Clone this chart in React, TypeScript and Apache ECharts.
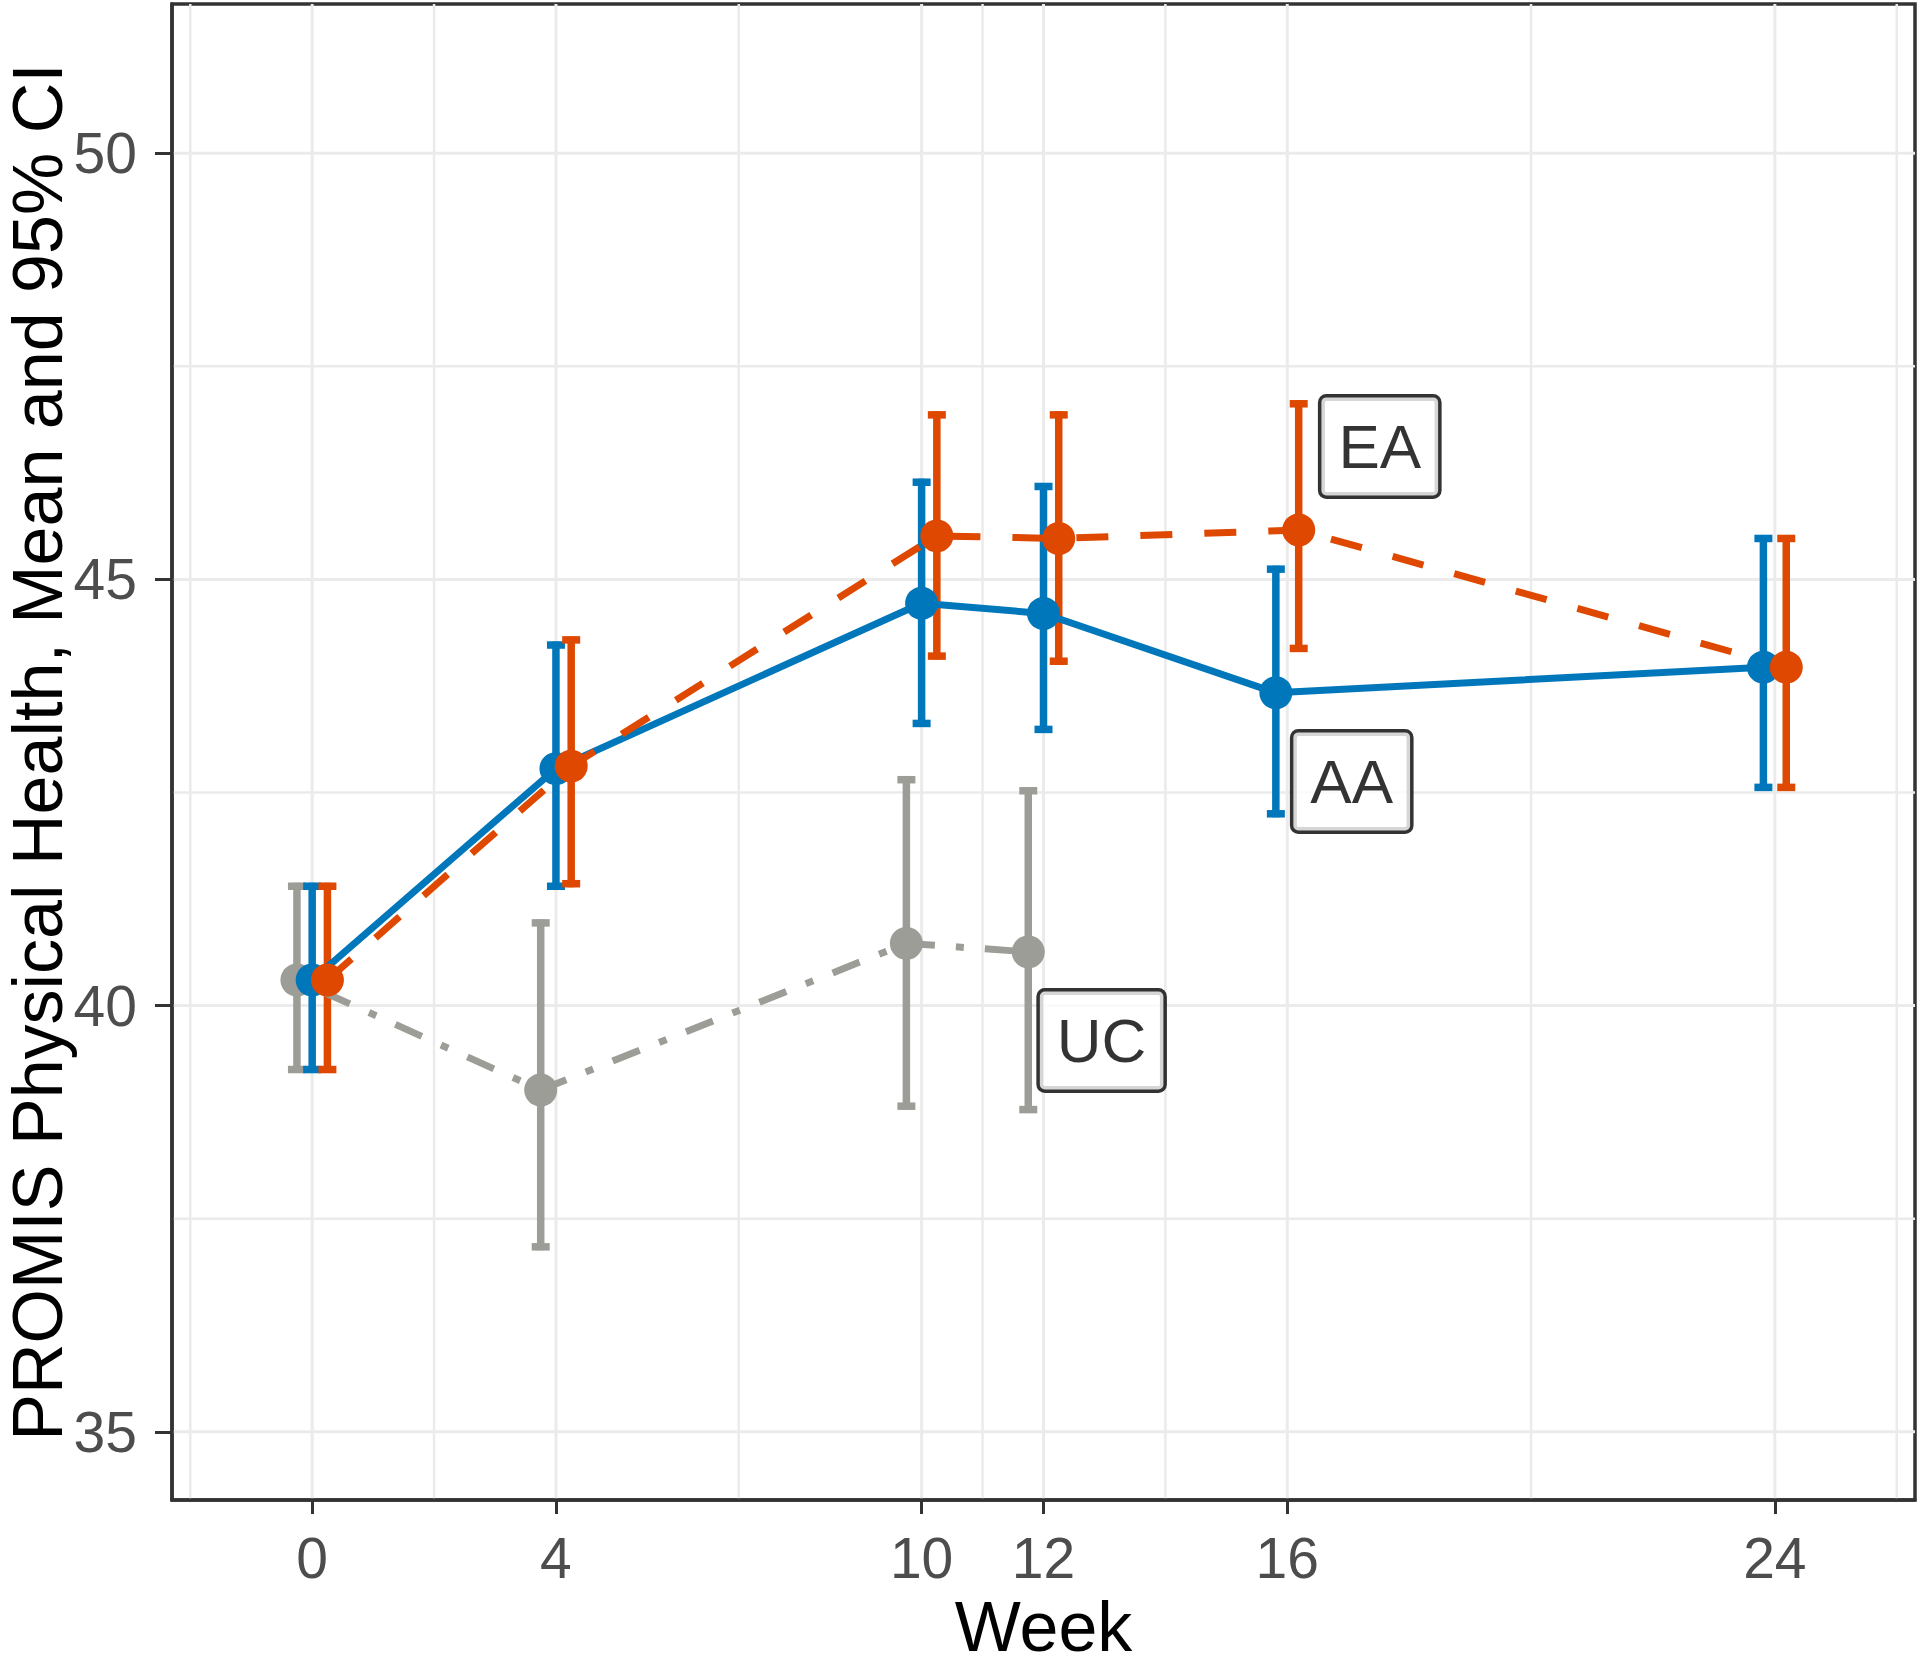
import React, { useEffect, useRef } from "react";
import * as echarts from "echarts";

// ---- data ----
const weeks = [0, 4, 10, 12, 16, 24];
const groupOrder = ["UC", "AA", "EA"];

const ucWeeks = [0, 4, 10, 12];
const ucMean = [40.3, 39.01, 40.73, 40.63];
const ucLower = [39.25, 37.17, 38.82, 38.78];
const ucUpper = [41.4, 40.97, 42.65, 42.52];

const aaWeeks = [0, 4, 10, 12, 16, 24];
const aaMean = [40.3, 42.78, 44.72, 44.6, 43.67, 43.97];
const aaLower = [39.25, 41.4, 43.31, 43.24, 42.25, 42.56];
const aaUpper = [41.4, 44.23, 46.14, 46.09, 45.12, 45.48];

const eaWeeks = [0, 4, 10, 12, 16, 24];
const eaMean = [40.3, 42.81, 45.51, 45.48, 45.58, 43.97];
const eaLower = [39.25, 41.43, 44.1, 44.04, 44.19, 42.56];
const eaUpper = [41.4, 44.29, 46.93, 46.93, 47.06, 45.48];

const xTicks = [0, 4, 10, 12, 16, 24];
const yTicks = [35, 40, 45, 50];
const xMinor = [-2, 2, 7, 11, 14, 20, 26];
const yMinor = [37.5, 42.5, 47.5];

const labelNames = ["EA", "AA", "UC"];
const labelX = [16.56, 16.1, 11.94];
const labelY = [46.56, 42.63, 39.59];

const COLORS: Record<string, string> = { UC: "#9D9D97", AA: "#0077BB", EA: "#DE4800" };
const DASH: Record<string, any> = { UC: [8, 21, 29, 21], AA: "solid", EA: [32, 32] };
const FONT = "'Liberation Sans', Arial, Helvetica, sans-serif";

const groupData: Record<string, { w: number[]; m: number[]; lo: number[]; hi: number[] }> = {
  UC: { w: ucWeeks, m: ucMean, lo: ucLower, hi: ucUpper },
  AA: { w: aaWeeks, m: aaMean, lo: aaLower, hi: aaUpper },
  EA: { w: eaWeeks, m: eaMean, lo: eaLower, hi: eaUpper },
};

const DODGE = 0.75;
function dodgedX(group: string, week: number): number {
  const present = groupOrder.filter((g) => groupData[g].w.includes(week));
  const n = present.length;
  const i = present.indexOf(group);
  return week - DODGE / 2 + DODGE / (2 * n) + (i * DODGE) / n;
}

export default function App() {
  const ref = useRef<HTMLDivElement>(null);

  useEffect(() => {
    if (!ref.current) return;
    const chart = echarts.init(ref.current, undefined, { renderer: "svg" });

    const gridItems: number[][] = [];
    xMinor.forEach((v) => gridItems.push([v, 40, 0, 0]));
    xTicks.forEach((v) => gridItems.push([v, 40, 0, 1]));
    yMinor.forEach((v) => gridItems.push([0, v, 1, 0]));
    yTicks.forEach((v) => gridItems.push([0, v, 1, 1]));

    const series: any[] = [
      {
        type: "custom",
        name: "grid",
        z: 0,
        silent: true,
        data: gridItems,
        encode: { x: 0, y: 1 },
        renderItem: (params: any, api: any) => {
          const cs = params.coordSys;
          const horiz = api.value(2) === 1;
          const major = api.value(3) === 1;
          const style = { stroke: "#EBEBEB", lineWidth: major ? 3 : 2.5, fill: null };
          if (horiz) {
            const y = api.coord([0, api.value(1)])[1];
            return { type: "line", shape: { x1: cs.x, y1: y, x2: cs.x + cs.width, y2: y }, style };
          }
          const x = api.coord([api.value(0), 40])[0];
          return { type: "line", shape: { x1: x, y1: cs.y, x2: x, y2: cs.y + cs.height }, style };
        },
      },
    ];

    groupOrder.forEach((g) => {
      const d = groupData[g];
      const color = COLORS[g];
      series.push({
        type: "custom",
        name: g + " CI",
        z: 2,
        silent: true,
        encode: { x: 0, y: [1, 2] },
        data: d.w.map((w, i) => [dodgedX(g, w), d.lo[i], d.hi[i]]),
        renderItem: (params: any, api: any) => {
          const x = api.value(0);
          const pLo = api.coord([x, api.value(1)]);
          const pHi = api.coord([x, api.value(2)]);
          const hw = 9;
          const style = { stroke: color, lineWidth: 7.5, fill: null, lineCap: "butt" };
          return {
            type: "group",
            children: [
              { type: "line", shape: { x1: pLo[0], y1: pLo[1] + 3.5, x2: pHi[0], y2: pHi[1] - 3.5 }, style },
              { type: "line", shape: { x1: pHi[0] - hw, y1: pHi[1], x2: pHi[0] + hw, y2: pHi[1] }, style },
              { type: "line", shape: { x1: pLo[0] - hw, y1: pLo[1], x2: pLo[0] + hw, y2: pLo[1] }, style },
            ],
          };
        },
      });
    });

    groupOrder.forEach((g) => {
      const d = groupData[g];
      series.push({
        type: "line",
        name: g,
        z: 3,
        silent: true,
        showSymbol: false,
        symbol: "none",
        data: d.w.map((w, i) => [dodgedX(g, w), d.m[i]]),
        lineStyle: { color: COLORS[g], width: 7, type: DASH[g], cap: "butt" },
      });
    });

    groupOrder.forEach((g) => {
      const d = groupData[g];
      series.push({
        type: "scatter",
        name: g + " mean",
        z: 4,
        silent: true,
        symbol: "circle",
        symbolSize: 33,
        itemStyle: { color: COLORS[g], opacity: 1 },
        data: d.w.map((w, i) => [dodgedX(g, w), d.m[i]]),
      });
    });

    series.push({
      type: "scatter",
      name: "labels",
      z: 5,
      silent: true,
      symbolSize: 0,
      data: labelNames.map((n, i) => ({ name: n, value: [labelX[i], labelY[i]] })),
      label: {
        show: true,
        position: "right",
        distance: 0,
        formatter: (p: any) => p.name,
        fontFamily: FONT,
        fontSize: 62,
        lineHeight: 62,
        color: "#000",
        backgroundColor: "#fff",
        borderColor: "#000",
        borderWidth: 3.5,
        borderRadius: 5,
        padding: [18, 17, 18, 17],
      },
    });

    chart.setOption({
      animation: false,
      backgroundColor: "#fff",
      grid: {
        left: 172,
        right: 5,
        top: 4,
        bottom: 171,
        show: true,
        borderColor: "#333333",
        borderWidth: 3.5,
        containLabel: false,
        outerBoundsMode: "none",
      },
      xAxis: {
        type: "value",
        min: -2.3,
        max: 26.3,
        splitLine: { show: false },
        axisLine: { show: true, onZero: false, lineStyle: { color: "#333333", width: 3.5 } },
        axisTick: { show: true, customValues: xTicks, length: 14, lineStyle: { color: "#333333", width: 3 } },
        axisLabel: { customValues: xTicks, fontSize: 57, color: "#4D4D4D", fontFamily: FONT, margin: 29 },
        name: "Week",
        nameLocation: "middle",
        nameGap: 92,
        nameMoveOverlap: false,
        nameTextStyle: { fontSize: 70, color: "#000", fontFamily: FONT },
      },
      yAxis: {
        type: "value",
        min: 34.2,
        max: 51.75,
        splitLine: { show: false },
        axisLine: { show: true, onZero: false, lineStyle: { color: "#333333", width: 3.5 } },
        axisTick: { show: true, customValues: yTicks, length: 17, lineStyle: { color: "#333333", width: 3 } },
        axisLabel: { customValues: yTicks, fontSize: 57, color: "#4D4D4D", fontFamily: FONT, margin: 35 },
        name: "PROMIS Physical Health, Mean and 95% CI",
        nameLocation: "middle",
        nameGap: 99,
        nameMoveOverlap: false,
        nameTextStyle: { fontSize: 70, color: "#000", fontFamily: FONT },
      },
      series,
    });

    return () => chart.dispose();
  }, []);

  return (
    <div
      ref={ref}
      style={{ position: "absolute", left: 0, top: 0, width: 1920, height: 1671, background: "#fff" }}
    />
  );
}
